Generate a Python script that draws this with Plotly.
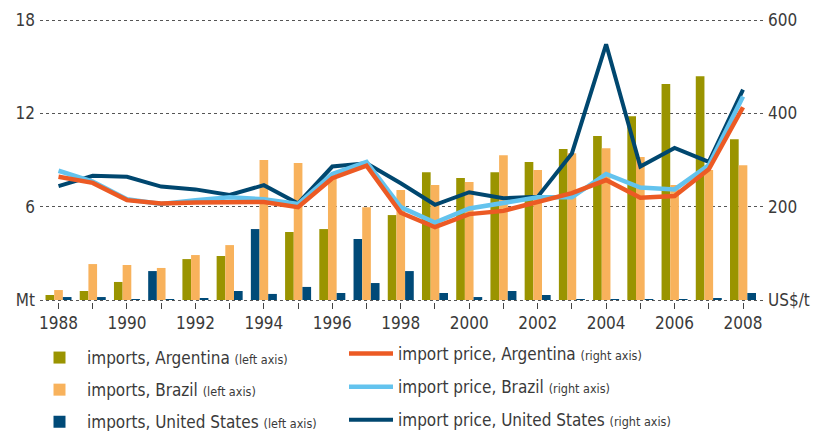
import plotly.graph_objects as go

years = list(range(1988, 2009))

imports_argentina = [0.32, 0.58, 1.16, 1.86, 2.63, 2.83, 4.56, 4.37, 4.56, 3.92, 5.46,
                     8.22, 7.84, 8.22, 8.87, 9.70, 10.54, 11.82, 13.88, 14.39, 10.34]
imports_brazil = [0.64, 2.31, 2.25, 2.06, 2.89, 3.53, 9.00, 8.80, 7.80, 5.97, 7.07,
                  7.39, 7.58, 9.31, 8.35, 9.44, 9.76, 9.19, 7.40, 8.35, 8.67]
imports_us = [0.19, 0.19, 0.06, 0.06, 0.13, 0.58, 0.39, 0.84, 0.45, 1.09, 1.86,
              0.45, 0.19, 0.58, 0.32, 0.06, 0.02, 0.06, 0.02, 0.13, 0.45]

price_argentina = [264, 251, 214, 207, 209, 210, 210, 199, 261, 288, 187,
                   156, 184, 191, 211, 229, 257, 219, 223, 280, 413]
price_brazil = [277, 254, 216, 206, 214, 220, 216, 206, 270, 296, 199,
                166, 196, 207, 220, 220, 270, 241, 237, 289, 436]
price_us = [244, 266, 264, 243, 237, 225, 246, 207, 286, 293, 250,
            204, 231, 218, 221, 314, 548, 286, 326, 296, 451]

left_tickvals = [0, 6, 12, 18]
left_ticktext = ["Mt", "6", "12", "18"]
right_tickvals = [0, 200, 400, 600]
right_ticktext = ["US$/t", "200", "400", "600"]
x_ticktext = [str(y) if y % 2 == 0 else "" for y in years]

OLIVE = "#9a9400"
ORANGE = "#f8b25c"
NAVY = "#004a78"
RED = "#ec5a24"
SKY = "#63c3ee"
NAVY_LINE = "#00476f"

# the reference draws Argentina's 1991, 1994 and 1997 bars in navy
arg_colors = [NAVY if y in (1991, 1994, 1997) else OLIVE for y in years]

FONT = "DejaVu Sans Condensed, Liberation Sans Narrow, Open Sans, sans-serif"
small = "<span style='font-size:12.5px'>%s</span>"

fig = go.Figure()
fig.add_trace(go.Bar(x=years, y=imports_argentina, marker=dict(color=arg_colors, line_width=0),
                     name="imports, Argentina " + small % "(left axis)", legend="legend",
                     legendgroup="a"))
fig.add_trace(go.Bar(x=years, y=imports_brazil, marker=dict(color=ORANGE, line_width=0),
                     name="imports, Brazil " + small % "(left axis)", legend="legend",
                     legendgroup="b"))
fig.add_trace(go.Bar(x=years, y=imports_us, marker=dict(color=NAVY, line_width=0),
                     name="imports, United States " + small % "(left axis)", legend="legend",
                     legendgroup="c"))
fig.add_trace(go.Scatter(x=years, y=price_us, yaxis="y2", mode="lines",
                         line=dict(color=NAVY_LINE, width=4),
                         name="import price, United States " + small % "(right axis)",
                         legend="legend2", legendgroup="f", legendrank=3))
fig.add_trace(go.Scatter(x=years, y=price_brazil, yaxis="y2", mode="lines",
                         line=dict(color=SKY, width=4.5),
                         name="import price, Brazil " + small % "(right axis)",
                         legend="legend2", legendgroup="e", legendrank=2))
fig.add_trace(go.Scatter(x=years, y=price_argentina, yaxis="y2", mode="lines",
                         line=dict(color=RED, width=4.5),
                         name="import price, Argentina " + small % "(right axis)",
                         legend="legend2", legendgroup="d", legendrank=1))

# plot area: x 40..763 px, y 18..302 px (0 at 300, 18 at 20)
PLOT_W, PLOT_H = 723, 284
EXT = 18 / 280 * 2
legend_common = dict(font=dict(family=FONT, size=17, color="#3a3a3a"),
                     bgcolor="rgba(0,0,0,0)",
                     xanchor="left", yanchor="top",
                     itemclick=False, itemdoubleclick=False)

def py(pix):
    return (302 - pix) / PLOT_H

def px(pix):
    return (pix - 40) / PLOT_W

fig.update_layout(
    width=816, height=431,
    margin=dict(l=40, r=53, t=18, b=129, autoexpand=False),
    paper_bgcolor="white", plot_bgcolor="white",
    barmode="group", bargap=0.24, bargroupgap=0,
    font=dict(family=FONT, size=17, color="#3a3a3a"),
    xaxis=dict(range=[1987.459, 2008.584], tickvals=years, ticktext=x_ticktext,
               ticks="outside", ticklen=6, tickwidth=1, tickcolor="#444",
               showgrid=False, zeroline=False, showline=False,
               tickfont=dict(size=17, color="#3a3a3a")),
    yaxis=dict(range=[-EXT, 18 + EXT], tickvals=left_tickvals, ticktext=left_ticktext,
               showgrid=True, gridcolor="#555", griddash="dot", gridwidth=1,
               zeroline=False, showline=False, ticks="", ticklabelstandoff=4,
               tickfont=dict(size=17, color="#3a3a3a")),
    yaxis2=dict(range=[-EXT * 100 / 3, 600 + EXT * 100 / 3], overlaying="y", side="right",
                tickvals=right_tickvals, ticktext=right_ticktext,
                showgrid=False, zeroline=False, showline=False, ticks="",
                ticklabelstandoff=4,
                tickfont=dict(size=17, color="#3a3a3a")),
    legend=dict(x=px(32), y=py(340), itemwidth=45, tracegroupgap=7, **legend_common),
    legend2=dict(x=px(344), y=py(336), itemwidth=44, tracegroupgap=8, **legend_common),
)

fig.write_html("out.html", config={"displayModeBar": False},
               post_script="document.body.style.margin='0';document.body.style.padding='0';")
